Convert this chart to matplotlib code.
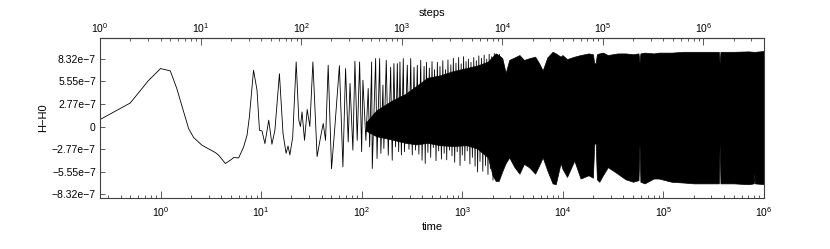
import matplotlib
matplotlib.use("Agg")
import matplotlib.pyplot as plt
from matplotlib.ticker import FixedLocator, LogLocator, NullFormatter

plt.rcParams['font.family'] = ['Liberation Sans', 'DejaVu Sans']

# H-H0 in units of 1e-7, early curve and resolved oscillations
t_line = [0.25, 0.5, 0.75, 1.0, 1.25, 1.45, 1.9, 2.13, 2.58, 3.5, 3.78, 4.41, 5.0, 5.33, 5.98,
          6.7, 7.24, 7.64, 8.4, 9.1, 9.62, 10.2, 10.9, 11.9, 12.8, 13.7, 15.2, 16.5, 17.7,
          18.5, 19.3, 20.6, 22.3, 23.7, 24.6, 25.5, 27.0, 28.7, 30.5, 32.7, 36.0, 39.0, 41.4,
          43.7, 46.4, 50.1, 54.1, 60.0, 65.0, 69.1, 73.4, 76.5, 81.7, 85.6, 90.2, 95.3, 99.8,
          102.8, 110, 116, 120, 125.5, 127.3, 137.5, 142, 150.7, 155, 162.6, 166, 175.4, 183.6,
          194, 201, 209, 217, 226, 233, 240, 248, 259, 266, 284, 295, 307, 318, 331, 343, 357,
          370, 386, 398, 417, 428, 440, 455, 470, 485, 500, 515, 530, 548, 565, 582, 600, 620,
          640, 660, 680, 700, 720, 745, 770, 790, 815, 840, 865, 890, 920, 950, 975, 1000,
          1030, 1060, 1090, 1120, 1150, 1190, 1220, 1260, 1300, 1340, 1380, 1420, 1460, 1500,
          1550, 1600, 1650, 1700, 1750, 1800, 1850, 1900, 1960, 2020, 2080, 2140, 2200, 2270,
          2340, 2410, 2480]
v_line = [0.86, 2.9, 5.6, 7.14, 6.85, 4.68, -0.25, -1.35, -2.3, -3.2, -3.53, -4.55, -4.1, -3.82, -3.86,
          -2.5, -1.07, 1.18, 6.93, 4.47, -0.46, -0.54, -2.1, 0.78, -2.18, -0.46, 6.5, -0.86, -3.3,
          -2.4, -3.5, -1.28, 7.95, 0.78, 0.0, 1.8, -1.7, 2.1, 0.0, 7.95, -3.7, -1.28, 0.37,
          -1.7, 7.55, -5.2, 0.0, 7.5, -4.97, 7.14, -1.9, 5.3, -2.9, 8.04, -1.7, 7.95, -3.1,
          5.7, -1.7, 4.68, -2.5, 7.95, -5.17, 8.37, -3.94, 8.37, -3.3, 5.1, -2.7, 8.16, -3.53,
          7.3, -4.15, 7.75, -2.5, 7.75, -3.1, 7.95, -3.5, 8.37, -3.1, 7.55, -2.8, 8.37, -3.5, 7.3, -2.9, 7.55,
          -3.4, 8.16, -4.15, 7.4, -4.55, 7.9, -3.2, 7.2, -3.8, 8.0, -2.6, 7.0, -4.2, 7.9, -3.0, 7.4, -4.0,
          8.1, -3.3, 7.0, -4.1, 8.2, -2.9, 7.6, -3.6, 8.4, -4.4, 7.8, -3.1, 8.5, -4.8, 7.7, -3.5,
          8.6, -4.2, 8.0, -3.0, 8.3, -4.6, 7.9, -3.8, 8.5, -4.9, 8.1, -5.6, 8.7, -4.3,
          8.4, -5.5, 8.8, -4.8, 8.3, -5.9, 8.9, -5.2, 8.6, -6.6, 9.0, -6.4, 8.7, -6.7,
          8.9, -6.0, 8.4]

# envelope of the unresolved (solid black) part
t_env = [110, 140, 200, 270, 350, 450, 600, 800, 1100, 1400, 1800, 2000, 2150, 2300, 2500,
         2700, 2930, 3300, 3700, 4100, 4600, 5300, 5800, 6300, 7000, 7900, 8500, 9500, 9900,
         11000, 13000, 15000, 18000, 19900, 20500, 21200, 21800, 23000, 25000, 28000, 35000,
         42000, 50000, 56500, 57800, 59000, 65000, 80000, 90000, 120000, 160000, 200000,
         280000, 355000, 362000, 369000, 500000, 700000, 790000, 800000, 810000, 1000000]
env_hi = [0.5, 2.0, 3.2, 4.0, 5.0, 6.0, 6.3, 6.8, 7.2, 7.5, 8.0, 8.6, 9.0, 8.8, 8.4,
          6.6, 8.2, 8.5, 8.8, 8.2, 8.4, 8.6, 7.8, 6.9, 8.5, 9.2, 9.0, 8.6, 8.8,
          8.3, 8.6, 8.8, 9.0, 8.9, 7.8, 7.8, 8.9, 9.0, 9.1, 8.8, 9.0,
          9.0, 8.9, 9.0, 7.9, 9.0, 9.1, 9.0, 9.1, 9.1, 9.2, 9.2,
          9.2, 9.2, 7.8, 9.2, 9.2, 9.25, 9.2, 9.2, 9.2, 9.3]
env_lo = [-0.5, -1.2, -1.6, -2.0, -2.2, -2.0, -2.3, -2.4, -2.3, -2.7, -3.8, -6.0, -6.7, -6.7, -5.5,
          -4.5, -3.8, -5.0, -5.8, -4.6, -5.0, -5.8, -4.8, -3.8, -5.4, -7.0, -7.1, -4.5, -5.2,
          -6.2, -4.2, -6.4, -6.0, -6.3, -2.1, -2.1, -6.5, -6.8, -6.0, -5.0, -5.8,
          -6.5, -6.8, -6.6, -2.1, -6.8, -7.0, -6.4, -6.4, -6.8, -6.9, -7.0,
          -7.0, -7.0, -2.1, -7.0, -7.0, -7.1, -7.0, -5.7, -7.0, -7.1]

yticks = [-8.32, -5.55, -2.77, 0, 2.77, 5.55, 8.32]
ytick_labels = ["\u22128.32e\u22127", "\u22125.55e\u22127", "\u22122.77e\u22127", "0",
                "2.77e\u22127", "5.55e\u22127", "8.32e\u22127"]
decades = [1, 10, 100, 1000, 10000, 100000, 1000000]

scale = 1e-7
axcol = '#404040'

fig = plt.figure(figsize=(8.3, 2.49), dpi=100)
ax = fig.add_axes([0.1205, 0.2048, 0.8, 0.6426])

ax.fill_between(t_env, [v * scale for v in env_hi], [v * scale for v in env_lo],
                color='black', lw=0.5)
ax.plot(t_line, [v * scale for v in v_line], color='black', lw=0.6)

ax.set_xscale('log')
ax.set_xlim(0.25, 1e6)
ax.set_ylim(-8.8e-7, 10.9e-7)
ax.xaxis.set_major_locator(FixedLocator(decades))
ax.xaxis.set_minor_locator(LogLocator(base=10, subs=range(2, 10)))
ax.xaxis.set_minor_formatter(NullFormatter())
ax.set_yticks([v * scale for v in yticks])
ax.set_yticklabels(ytick_labels)

for s in ax.spines.values():
    s.set_color(axcol)
    s.set_linewidth(0.8)

ax.tick_params(axis='both', which='both', direction='in', color=axcol, width=0.6,
               labelsize=7.5, right=False, top=False)
ax.tick_params(axis='x', which='major', length=5, pad=5)
ax.tick_params(axis='x', which='minor', length=2.5)
ax.tick_params(axis='y', which='major', length=3.5, pad=3)
ax.tick_params(axis='y', which='minor', left=False)

ax.set_xlabel("time", fontsize=8, labelpad=2)
ax.set_ylabel("H\u2212H0", fontsize=8, labelpad=3)

sec = ax.secondary_xaxis('top', functions=(lambda t: t * 4, lambda s: s / 4))
sec.xaxis.set_major_locator(FixedLocator(decades))
sec.xaxis.set_minor_locator(LogLocator(base=10, subs=range(2, 10)))
sec.xaxis.set_minor_formatter(NullFormatter())
sec.tick_params(axis='x', which='both', direction='in', color=axcol, width=0.6,
                labelsize=7.5, pad=2)
sec.tick_params(axis='x', which='major', length=5)
sec.tick_params(axis='x', which='minor', length=2.5)
sec.spines['top'].set_color(axcol)
sec.set_xlabel("steps", fontsize=8, labelpad=4)

fig.savefig("out.png", dpi=100)
